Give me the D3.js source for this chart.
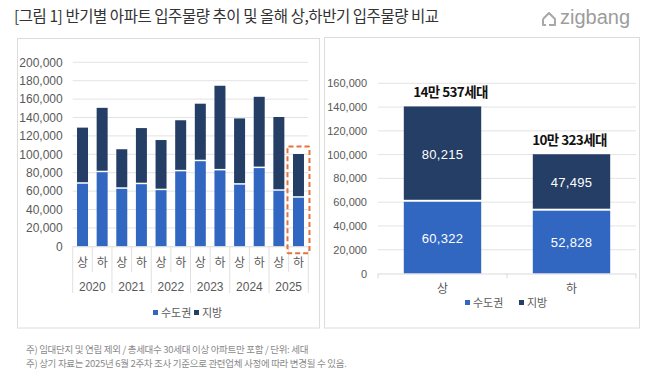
<!DOCTYPE html>
<html><head><meta charset="utf-8">
<script src="https://cdn.jsdelivr.net/npm/d3@7"></script>
<style>
body{margin:0;background:#fff;}
svg{display:block;}
text{font-family:"Liberation Sans","Noto Sans CJK KR",sans-serif;}
.kr{font-family:"Noto Sans CJK KR","Liberation Sans",sans-serif;}
</style></head>
<body>
<script>
// ---- data ----
const years = ["2020","2021","2022","2023","2024","2025"];
const halves = ["상","하"];
const capitalLeft = [68000, 80500, 62500, 67500, 61000, 81500, 92500, 82500, 67000, 85000, 60322, 52828];
const regionLeft  = [61000, 70000, 43000, 61000, 54500, 55500, 62500, 92000, 72000, 77500, 80215, 47495];
const leftTicks = [0,20000,40000,60000,80000,100000,120000,140000,160000,180000,200000];

const rightCats = ["상","하"];
const capitalRight = [60322, 52828];
const regionRight  = [80215, 47495];
const totalLabels  = ["14만 537세대","10만 323세대"];
const rightTicks = [0,20000,40000,60000,80000,100000,120000,140000,160000];

const seriesNames = ["수도권","지방"];
const title = "[그림 1] 반기별 아파트 입주물량 추이 및 올해 상,하반기 입주물량 비교";
const notes = ["주) 임대단지 및 연립 제외 / 총세대수 30세대 이상 아파트만 포함 / 단위: 세대",
               "주) 상기 자료는 2025년 6월 2주차 조사 기준으로 관련업체 사정에 따라 변경될 수 있음."];

const BLUE = "#3167C1", NAVY = "#243E66", GRID = "#e3e3e3", AX = "#595959";
const fmt = d3.format(",");

const svg = d3.select("body").append("svg").attr("width",658).attr("height",379);

// title
svg.append("text").attr("class","kr").attr("x",14).attr("y",22)
  .attr("font-size",15.5).attr("fill","#333").attr("letter-spacing","-0.45")
  .text(title);

// logo
const logo = svg.append("g").attr("transform","translate(540,9)");
logo.append("path").attr("d","M3,10 L9,4 L15,10 L15,16 L9,16 M3,10 L3,16 L6,16")
  .attr("fill","none").attr("stroke","#a8a8a8").attr("stroke-width",2).attr("stroke-linejoin","round");
svg.append("text").attr("x",560).attr("y",24).attr("font-size",20).attr("fill","#9c9c9c")
  .attr("font-family","Inter, Liberation Sans, sans-serif").text("zigbang");

// panels
svg.append("rect").attr("x",17.5).attr("y",38.5).attr("width",302).attr("height",289.5)
  .attr("fill","none").attr("stroke","#dcdcdc");
svg.append("rect").attr("x",324.5).attr("y",37.5).attr("width",315).attr("height",290.5)
  .attr("fill","none").attr("stroke","#dcdcdc");

// ---------- LEFT CHART ----------
const L = {x0:72.7, x1:308.3, yTop:62.3, y0:246.3};
const cats = [];
years.forEach(y=>halves.forEach(h=>cats.push(y+"-"+h)));
const xL = d3.scaleBand().domain(cats).range([L.x0,L.x1]).paddingInner(0.44).paddingOuter(0.22);
const bandL = (L.x1-L.x0)/cats.length;
const yL = d3.scaleLinear().domain([0,200000]).range([L.y0,L.yTop]);

const gL = svg.append("g");
gL.selectAll("line.grid").data(leftTicks.filter(d=>d>0)).join("line")
  .attr("x1",L.x0).attr("x2",L.x1).attr("y1",d=>yL(d)).attr("y2",d=>yL(d))
  .attr("stroke",GRID).attr("stroke-width",1);
const axL = d3.axisLeft(yL).tickValues(leftTicks).tickFormat(fmt).tickSize(0).tickPadding(10);
gL.append("g").attr("transform",`translate(${L.x0},0)`).call(axL)
  .call(g=>g.select(".domain").remove())
  .call(g=>g.selectAll("text").attr("font-size",12).attr("fill",AX)
     .attr("font-family","Liberation Sans, sans-serif"));

const stackL = cats.map((c,i)=>({c, cap:capitalLeft[i], reg:regionLeft[i]}));
gL.selectAll("rect.cap").data(stackL).join("rect")
  .attr("x",d=>xL(d.c)).attr("width",xL.bandwidth())
  .attr("y",d=>yL(d.cap)).attr("height",d=>yL(0)-yL(d.cap))
  .attr("fill",BLUE);
gL.selectAll("rect.reg").data(stackL).join("rect")
  .attr("x",d=>xL(d.c)).attr("width",xL.bandwidth())
  .attr("y",d=>yL(d.cap+d.reg)).attr("height",d=>yL(d.cap)-yL(d.cap+d.reg)-1.5)
  .attr("fill",NAVY);

// axis line & category axis
gL.append("line").attr("x1",L.x0).attr("x2",L.x1).attr("y1",L.y0+0.5).attr("y2",L.y0+0.5)
  .attr("stroke","#d9d9d9");
for(let i=0;i<=cats.length;i++){
  const x = L.x0 + i*bandL;
  const yearB = (i%2===0);
  gL.append("line").attr("x1",x).attr("x2",x).attr("y1",L.y0).attr("y2",yearB?293:272)
    .attr("stroke","#e0e0e0");
}
gL.selectAll("text.half").data(cats).join("text").attr("class","kr")
  .attr("x",d=>xL(d)+xL.bandwidth()/2).attr("y",267).attr("text-anchor","middle")
  .attr("font-size",12).attr("fill",AX).text(d=>d.split("-")[1]);
gL.selectAll("text.year").data(years).join("text")
  .attr("x",(d,i)=>L.x0+(i*2+1)*bandL).attr("y",290.5).attr("text-anchor","middle")
  .attr("font-size",12).attr("fill",AX).text(d=>d);

// highlight box on last bar
const lastC = cats[cats.length-1];
const hx = xL(lastC);
gL.append("rect").attr("x",hx-5.5).attr("y",yL(capitalLeft[11]+regionLeft[11])-7.5)
  .attr("width",xL.bandwidth()+11).attr("height",L.y0+7-(yL(capitalLeft[11]+regionLeft[11])-7.5))
  .attr("fill","none").attr("stroke","#E5733C").attr("stroke-width",2)
  .attr("stroke-dasharray","5,3").attr("rx",1);

// legend
function legend(g, cx, cy, off1, off2){
  const items = [{n:seriesNames[0],c:BLUE,x:off1},{n:seriesNames[1],c:NAVY,x:off2}];
  items.forEach(it=>{
    g.append("rect").attr("x",cx+it.x).attr("y",cy-3).attr("width",5).attr("height",5).attr("fill",it.c);
    g.append("text").attr("class","kr").attr("x",cx+it.x+8).attr("y",cy+4)
      .attr("font-size",11).attr("fill",AX).text(it.n);
  });
}
legend(gL, 185, 313, -32, 9);

// ---------- RIGHT CHART ----------
const R = {x0:378, x1:636, yTop:83.3, y0:273.5};
const xR = d3.scaleBand().domain(rightCats).range([R.x0,R.x1]).paddingInner(0.4).paddingOuter(0.2);
const yR = d3.scaleLinear().domain([0,160000]).range([R.y0,R.yTop]);
const gR = svg.append("g");
gR.selectAll("line.grid").data(rightTicks.filter(d=>d>0)).join("line")
  .attr("x1",R.x0).attr("x2",R.x1).attr("y1",d=>yR(d)).attr("y2",d=>yR(d))
  .attr("stroke",GRID);
const axR = d3.axisLeft(yR).tickValues(rightTicks).tickFormat(fmt).tickSize(0).tickPadding(11);
gR.append("g").attr("transform",`translate(${R.x0},0)`).call(axR)
  .call(g=>g.select(".domain").remove())
  .call(g=>g.selectAll("text").attr("font-size",11).attr("fill",AX)
     .attr("font-family","Liberation Sans, sans-serif"));

const stackR = rightCats.map((c,i)=>({c,cap:capitalRight[i],reg:regionRight[i],lab:totalLabels[i]}));
gR.selectAll("rect.cap").data(stackR).join("rect")
  .attr("x",d=>xR(d.c)).attr("width",xR.bandwidth())
  .attr("y",d=>yR(d.cap)).attr("height",d=>yR(0)-yR(d.cap)).attr("fill",BLUE);
gR.selectAll("rect.reg").data(stackR).join("rect")
  .attr("x",d=>xR(d.c)).attr("width",xR.bandwidth())
  .attr("y",d=>yR(d.cap+d.reg)).attr("height",d=>yR(d.cap)-yR(d.cap+d.reg)-2)
  .attr("fill",NAVY);
gR.selectAll("text.vcap").data(stackR).join("text")
  .attr("x",d=>xR(d.c)+xR.bandwidth()/2).attr("y",d=>(yR(0)+yR(d.cap))/2+5)
  .attr("text-anchor","middle").attr("font-size",13).attr("fill","#fff").attr("letter-spacing","0.3")
  .text(d=>fmt(d.cap));
gR.selectAll("text.vreg").data(stackR).join("text")
  .attr("x",d=>xR(d.c)+xR.bandwidth()/2).attr("y",d=>(yR(d.cap)+yR(d.cap+d.reg))/2+5)
  .attr("text-anchor","middle").attr("font-size",13).attr("fill","#fff").attr("letter-spacing","0.3")
  .text(d=>fmt(d.reg));
const labelDx = [8, -2];
gR.selectAll("text.tot").data(stackR).join("text").attr("class","kr")
  .attr("x",(d,i)=>xR(d.c)+xR.bandwidth()/2+labelDx[i]).attr("y",d=>yR(d.cap+d.reg)-9)
  .attr("text-anchor","middle").attr("font-size",13.5).attr("font-weight","bold")
  .attr("fill","#111").attr("letter-spacing","-0.6").text(d=>d.lab);

gR.append("line").attr("x1",R.x0).attr("x2",R.x1).attr("y1",R.y0+0.5).attr("y2",R.y0+0.5).attr("stroke","#d9d9d9");
[R.x0,(R.x0+R.x1)/2,R.x1].forEach(x=>{
  gR.append("line").attr("x1",x).attr("x2",x).attr("y1",R.y0).attr("y2",R.y0+5).attr("stroke","#d9d9d9");
});
gR.selectAll("text.cat").data(rightCats).join("text").attr("class","kr")
  .attr("x",d=>xR(d)+xR.bandwidth()/2).attr("y",293).attr("text-anchor","middle")
  .attr("font-size",12).attr("fill",AX).text(d=>d);
legend(gR, 503, 303, -38, 16);

// notes
notes.forEach((n,i)=>{
  svg.append("text").attr("class","kr").attr("x",26).attr("y",353+i*14)
    .attr("font-size",9.5).attr("fill","#8a8a8a").attr("letter-spacing","-0.3").text(n);
});
</script>
</body></html>
